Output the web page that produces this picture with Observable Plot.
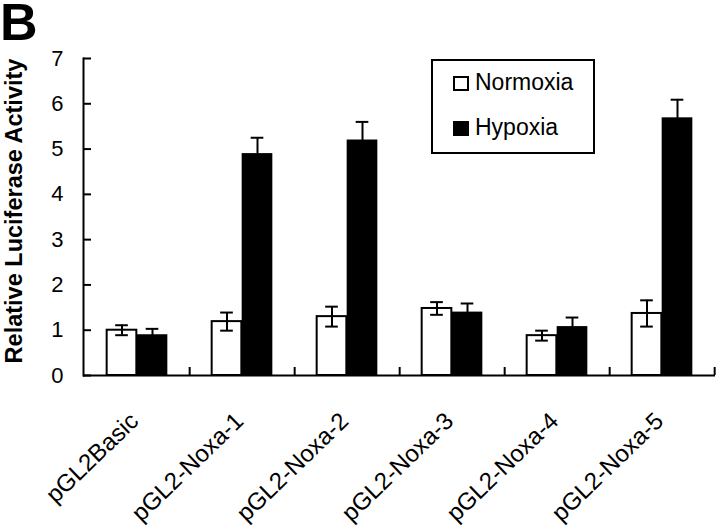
<!DOCTYPE html>
<html>
<head>
<meta charset="utf-8">
<script src="https://cdn.jsdelivr.net/npm/d3@7"></script>
<script src="https://cdn.jsdelivr.net/npm/@observablehq/plot@0.6"></script>
<style>
  html, body { margin: 0; padding: 0; background: #fff; }
  #wrap { position: relative; width: 720px; height: 532px; overflow: hidden; font-family: "Liberation Sans", Arial, Helvetica, sans-serif; color: #000; }
  #panel { position: absolute; left: 0; top: 0; font-size: 52px; font-weight: bold; line-height: 44px; }
  #legend { position: absolute; left: 431px; top: 59px; width: 160px; height: 91px; border: 2px solid #000; background: #fff; }
  .item { position: absolute; left: 20px; height: 23px; }
  .sw { position: absolute; left: 0; top: 5px; width: 16px; height: 15px; box-sizing: border-box; border: 2px solid #000; }
  .lab { position: absolute; left: 22px; top: 0; font-size: 23px; line-height: 23px; white-space: nowrap; }
</style>
</head>
<body>
<div id="wrap">
  <div id="chart"></div>
  <div id="panel">B</div>
  <div id="legend"></div>
</div>
<script>
// ---- data ----
const categories = ["pGL2Basic", "pGL2-Noxa-1", "pGL2-Noxa-2", "pGL2-Noxa-3", "pGL2-Noxa-4", "pGL2-Noxa-5"];
const series = ["Normoxia", "Hypoxia"];
const seriesColors = ["#ffffff", "#000000"];
const normoxia    = [1.00, 1.19, 1.30, 1.48, 0.88, 1.37];
const normoxiaErr = [0.11, 0.20, 0.22, 0.14, 0.11, 0.29];
const hypoxia     = [0.90, 4.90, 5.20, 1.40, 1.08, 5.69];
const hypoxiaErr  = [0.13, 0.35, 0.40, 0.19, 0.20, 0.40];
const yTicks = [0, 1, 2, 3, 4, 5, 6, 7];
const yLabel = "Relative Luciferase Activity";

// ---- layout ----
const width = 720, height = 532;
const mL = 83, mR = 5, mT = 58, mB = 157;
const band = (width - mL - mR) / categories.length;
const frameH = height - mT - mB;
const barW = 31, capW = 13;

const rows = (vals, errs, name) => categories.map((c, i) => ({category: c, series: name, value: vals[i], err: errs[i]}));
const nData = rows(normoxia, normoxiaErr, series[0]);
const hData = rows(hypoxia, hypoxiaErr, series[1]);

const errMarks = (data, dx) => [
  Plot.ruleX(data, {x: "category", y1: d => d.value - d.err, y2: d => d.value + d.err, dx, stroke: "#000", strokeWidth: 2}),
  Plot.tickY(data, {x: "category", y: d => d.value + d.err, dx, insetLeft: (band - capW) / 2, insetRight: (band - capW) / 2, stroke: "#000", strokeWidth: 2}),
  Plot.tickY(data, {x: "category", y: d => d.value - d.err, dx, insetLeft: (band - capW) / 2, insetRight: (band - capW) / 2, stroke: "#000", strokeWidth: 2})
];

const chart = Plot.plot({
  width, height,
  marginLeft: mL, marginRight: mR, marginTop: mT, marginBottom: mB,
  style: {fontFamily: "'Liberation Sans', Arial, Helvetica, sans-serif", background: "transparent", color: "#000"},
  x: {domain: categories, padding: 0, axis: null},
  y: {domain: [0, 7]},
  color: {domain: series, range: seriesColors},
  marks: [
    Plot.barY(nData, {x: "category", y: "value", fill: "series", stroke: "#000", strokeWidth: 2,
      insetLeft: band / 2 - (barW - 1), insetRight: band / 2}),
    Plot.barY(hData, {x: "category", y: "value", fill: "series",
      insetLeft: band / 2, insetRight: band / 2 - barW}),
    ...errMarks(nData, -15),
    ...errMarks(hData, 15.5),
    // axes lines
    Plot.ruleY([0], {stroke: "#000", strokeWidth: 2}),
    Plot.frame({anchor: "left", stroke: "#000", strokeWidth: 2}),
    // inward y ticks
    Plot.tickY(yTicks, {y: d => d, insetRight: (width - mL - mR) - 8, stroke: "#000", strokeWidth: 2}),
    // inward x boundary ticks
    Plot.tickX(categories, {x: d => d, dx: band / 2, insetTop: frameH - 8, stroke: "#000", strokeWidth: 2}),
    // y tick labels
    Plot.axisY(yTicks, {tickSize: 0, tickPadding: 20, fontSize: 22, label: null}),
    // y title
    Plot.text([yLabel], {frameAnchor: "left", text: d => d, rotate: -90, textAnchor: "middle", lineAnchor: "top",
      dx: -78, dy: -6, fontSize: 23.5, fontWeight: "bold"}),
    // x category labels
    Plot.text(categories, {x: d => d, text: d => d, frameAnchor: "bottom", rotate: -44,
      textAnchor: "end", lineAnchor: "top", dx: -9, dy: 35, fontSize: 24})
  ]
});
document.getElementById("chart").appendChild(chart);

// ---- legend (HTML, built from the series arrays) ----
const legend = document.getElementById("legend");
series.forEach((s, i) => {
  const item = document.createElement("div");
  item.className = "item";
  item.style.top = (10 + i * 45) + "px";
  const sw = document.createElement("span");
  sw.className = "sw";
  sw.style.background = seriesColors[i];
  const lab = document.createElement("span");
  lab.className = "lab";
  lab.textContent = s;
  item.appendChild(sw);
  item.appendChild(lab);
  legend.appendChild(item);
});
</script>
</body>
</html>
